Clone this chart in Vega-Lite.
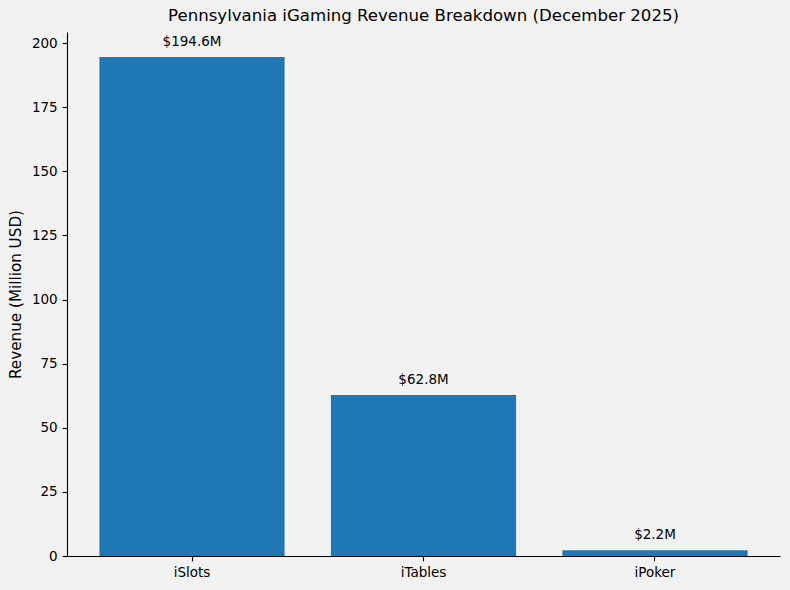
{
  "$schema": "https://vega.github.io/schema/vega-lite/v6.json",
  "width": 713,
  "height": 524,
  "autosize": {"type": "none"},
  "padding": {"left": 67, "top": 32, "right": 10, "bottom": 34},
  "background": "#f2f2f2",
  "config": {
    "font": "DejaVu Sans",
    "view": {"stroke": null},
    "axis": {
      "grid": false,
      "domainColor": "black",
      "tickColor": "black",
      "labelColor": "black",
      "titleColor": "black",
      "labelFontSize": 13.5,
      "titleFontSize": 15.2,
      "titleFontWeight": "normal",
      "tickSize": 4.9,
      "labelPadding": 4.9,
      "domainWidth": 1.1,
      "tickWidth": 1.1
    }
  },
  "title": {
    "text": "Pennsylvania iGaming Revenue Breakdown (December 2025)",
    "fontSize": 16.6,
    "fontWeight": "normal",
    "color": "black",
    "anchor": "middle",
    "offset": 7,
    "frame": "group"
  },
  "data": {
    "values": [
      {"category": "iSlots", "revenue": 194.6, "label": "$194.6M"},
      {"category": "iTables", "revenue": 62.8, "label": "$62.8M"},
      {"category": "iPoker", "revenue": 2.2, "label": "$2.2M"}
    ]
  },
  "encoding": {
    "x": {
      "field": "category",
      "type": "nominal",
      "sort": null,
      "scale": {"paddingInner": 0.2, "paddingOuter": 0.14},
      "axis": {"title": null, "labelAngle": 0}
    },
    "y": {
      "field": "revenue",
      "type": "quantitative",
      "scale": {"domain": [0, 204.33], "nice": false},
      "axis": {"title": "Revenue (Million USD)", "values": [0, 25, 50, 75, 100, 125, 150, 175, 200], "titlePadding": 8}
    }
  },
  "layer": [
    {"mark": {"type": "bar", "color": "#1f77b4"}},
    {
      "mark": {"type": "text", "baseline": "bottom", "dy": -8, "fontSize": 13.5, "color": "black"},
      "encoding": {"text": {"field": "label"}}
    }
  ]
}
